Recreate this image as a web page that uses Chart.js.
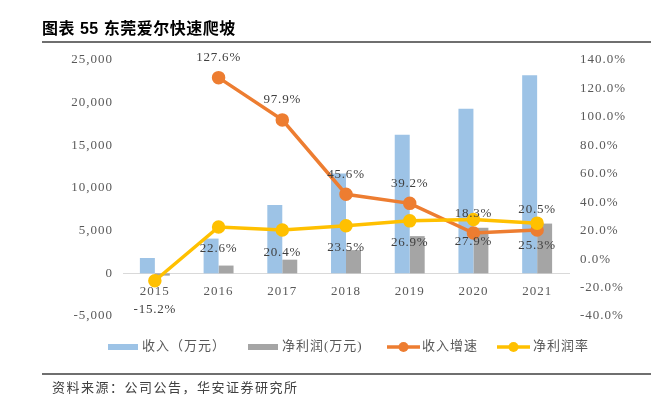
<!DOCTYPE html>
<html>
<head>
<meta charset="utf-8">
<script src="https://cdn.jsdelivr.net/npm/chart.js@4.4.0/dist/chart.umd.min.js"></script>
<style>
  html, body { margin: 0; padding: 0; background: #fff; }
  #wrap { width: 671px; height: 398px; }
</style>
</head>
<body>
<div id="wrap"><canvas id="chart" width="671" height="398"></canvas></div>
<script>
const years = ['2015', '2016', '2017', '2018', '2019', '2020', '2021'];
const revenue = [1800, 4070, 8020, 11700, 16250, 19300, 23200];
const profit = [-270, 910, 1600, 2720, 4360, 5340, 5830];
const revenueGrowth = [null, 127.6, 97.9, 45.6, 39.2, 18.3, 20.5];
const profitMargin = [-15.2, 22.6, 20.4, 23.5, 26.9, 27.9, 25.3];

const seriesNames = ['收入（万元）', '净利润(万元)', '收入增速', '净利润率'];
const titleText = '图表 55 东莞爱尔快速爬坡';
const sourceText = '资料来源：公司公告，华安证券研究所';

const BLUE = '#9DC3E6';
const GREY = '#A5A5A5';
const ORANGE = '#ED7D31';
const YELLOW = '#FFC000';

Chart.defaults.font.family = '"Liberation Serif", "Noto Sans CJK SC", serif';
Chart.defaults.font.size = 13;
Chart.defaults.color = '#595959';

const decoPlugin = {
    id: 'deco',
    beforeDraw(chart) {
        chart.ctx.letterSpacing = '1px';
    },
    afterDatasetsDraw(chart) {
        const ctx = chart.ctx;
        ctx.save();
        ctx.letterSpacing = '0.8px';
        ctx.font = '13px "Liberation Serif", serif';
        ctx.fillStyle = '#404040';
        ctx.textAlign = 'center';
        ctx.textBaseline = 'middle';
        // growth labels above the points (dataset 1)
        chart.getDatasetMeta(1).data.forEach((pt, i) => {
            if (revenueGrowth[i] == null) return;
            ctx.fillText(revenueGrowth[i].toFixed(1) + '%', pt.x, pt.y - 20);
        });
        // margin labels under the points (dataset 0)
        chart.getDatasetMeta(0).data.forEach((pt, i) => {
            const off = profitMargin[i] < 0 ? 29 : 22;
            ctx.fillText(profitMargin[i].toFixed(1) + '%', pt.x, pt.y + off);
        });
        ctx.restore();
    },
    afterDraw(chart) {
        const ctx = chart.ctx;
        ctx.save();
        // title
        ctx.letterSpacing = '0.5px';
        ctx.fillStyle = '#000';
        ctx.font = 'bold 16px "Liberation Sans", "Noto Sans CJK SC", sans-serif';
        ctx.textAlign = 'left';
        ctx.textBaseline = 'middle';
        ctx.fillText(titleText, 42, 30);
        // rules
        ctx.strokeStyle = '#404040';
        ctx.lineWidth = 1.5;
        ctx.beginPath();
        ctx.moveTo(42, 42); ctx.lineTo(651, 42);
        ctx.moveTo(42, 374); ctx.lineTo(651, 374);
        ctx.stroke();
        // source
        ctx.fillStyle = '#404040';
        ctx.letterSpacing = '1.5px';
        ctx.font = '13px "Noto Sans CJK SC", sans-serif';
        ctx.fillText(sourceText, 52, 387);

        // legend
        const ly = 347;
        ctx.letterSpacing = '1px';
        ctx.font = '13px "Liberation Serif", "Noto Sans CJK SC", serif';
        ctx.fillStyle = BLUE;
        ctx.fillRect(108, ly - 3, 30, 6);
        ctx.fillStyle = GREY;
        ctx.fillRect(248, ly - 3, 30, 6);
        [[387, ORANGE], [497, YELLOW]].forEach(([x, c]) => {
            ctx.strokeStyle = c;
            ctx.lineWidth = 3.5;
            ctx.beginPath();
            ctx.moveTo(x, ly); ctx.lineTo(x + 33, ly);
            ctx.stroke();
            ctx.fillStyle = c;
            ctx.beginPath();
            ctx.arc(x + 16.5, ly, 5, 0, Math.PI * 2);
            ctx.fill();
        });
        ctx.fillStyle = '#595959';
        ctx.fillText(seriesNames[0], 142, ly);
        ctx.fillText(seriesNames[1], 282, ly);
        ctx.fillText(seriesNames[2], 422, ly);
        ctx.fillText(seriesNames[3], 533, ly);
        ctx.restore();
    }
};

new Chart(document.getElementById('chart'), {
    data: {
        labels: years,
        datasets: [
            {
                type: 'line',
                label: seriesNames[3],
                data: profitMargin,
                yAxisID: 'y1',
                borderColor: YELLOW,
                backgroundColor: YELLOW,
                borderWidth: 3.5,
                pointRadius: 5,
                tension: 0,
                order: 0
            },
            {
                type: 'line',
                label: seriesNames[2],
                data: revenueGrowth,
                yAxisID: 'y1',
                borderColor: ORANGE,
                backgroundColor: ORANGE,
                borderWidth: 3.5,
                pointRadius: 5,
                tension: 0,
                order: 1
            },
            {
                type: 'bar',
                label: seriesNames[0],
                data: revenue,
                yAxisID: 'y',
                backgroundColor: BLUE,
                barPercentage: 1,
                categoryPercentage: 0.47,
                order: 2
            },
            {
                type: 'bar',
                label: seriesNames[1],
                data: profit,
                yAxisID: 'y',
                backgroundColor: GREY,
                barPercentage: 1,
                categoryPercentage: 0.47,
                order: 3
            }
        ]
    },
    options: {
        responsive: false,
        animation: false,
        layout: { padding: { left: 60, right: 22, top: 60, bottom: 82 } },
        plugins: {
            legend: { display: false },
            tooltip: { enabled: false },
            title: { display: false }
        },
        scales: {
            x: {
                position: { y: 0 },
                grid: { display: false, drawTicks: false },
                border: { display: true, color: '#D9D9D9', width: 1 },
                ticks: { padding: 10, color: '#595959' }
            },
            y: {
                position: 'left',
                min: -5000,
                max: 25000,
                afterFit(s) { s.width = 63; },
                grid: { display: false, drawTicks: false },
                border: { display: false },
                ticks: {
                    stepSize: 5000,
                    padding: 10,
                    callback: v => v.toLocaleString('en-US')
                }
            },
            y1: {
                position: 'right',
                min: -40,
                max: 140,
                afterFit(s) { s.width = 80; },
                grid: { display: false, drawTicks: false },
                border: { display: false },
                ticks: {
                    stepSize: 20,
                    padding: 11,
                    callback: v => v.toFixed(1) + '%'
                }
            }
        }
    },
    plugins: [decoPlugin]
});
</script>
</body>
</html>
